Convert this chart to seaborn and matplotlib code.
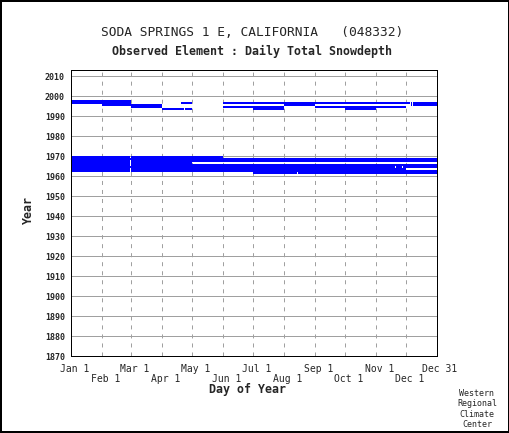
import matplotlib
matplotlib.use("Agg")
import matplotlib.pyplot as plt
import matplotlib.transforms as mtransforms
from matplotlib.patches import Rectangle
import seaborn as sns
import pandas as pd

# ---- data: observed-record segments (year, first day, day after last) ----
# day-of-year on a 366-day calendar (Jan 1 = 1, Feb 29 = 60, Dec 31 = 366)
seg_year  = [1997, 1996, 1996, 1996, 1996, 1996,
             1995, 1995, 1995, 1995,
             1994, 1994, 1994,
             1993, 1993, 1993, 1993,
             1969, 1969, 1968, 1967, 1967, 1966, 1966, 1965, 1965,
             1964, 1964, 1964, 1963, 1963, 1962, 1962, 1961, 1961]
seg_start = [1, 1, 111, 153, 341, 343,
             32, 214, 341, 343,
             61, 153, 245,
             92, 115, 183, 275,
             1, 61, 1, 1, 61, 1, 61, 1, 61,
             1, 326, 333, 1, 61, 1, 61, 183, 228]
seg_end   = [61, 61, 122, 340, 342, 367,
             92, 245, 342, 367,
             92, 214, 336,
             114, 122, 214, 306,
             60, 153, 367, 60, 367, 60, 122, 60, 367,
             325, 332, 367, 60, 336, 60, 367, 227, 367]

month_days   = [1, 32, 61, 92, 122, 153, 183, 214, 245, 275, 306, 336, 366]
month_labels = ["Jan 1", "Feb 1", "Mar 1", "Apr 1", "May 1", "Jun 1", "Jul 1",
                "Aug 1", "Sep 1", "Oct 1", "Nov 1", "Dec 1", "Dec 31"]
year_ticks = list(range(1870, 2011, 10))

title = "SODA SPRINGS 1 E, CALIFORNIA   (048332)"
subtitle = "Observed Element : Daily Total Snowdepth"

df = pd.DataFrame({"year": seg_year, "start": seg_start, "end": seg_end})
df["length"] = df["end"] - df["start"]

# ---- style ----
sns.set_style("white")
plt.rcParams["font.family"] = ["DejaVu Sans Mono", "DejaVu Sans"]
plt.rcParams["lines.scale_dashes"] = False

W, H = 510, 433
fig = plt.figure(figsize=(W / 100, H / 100), dpi=100)
ax = fig.add_axes([71 / W, 77 / H, 366 / W, 286 / H])

grid_c = "#a0a0a0"
px = 0.72

ax.set_xlim(1, 367)
ax.set_ylim(1870, 2013)

# horizontal grid
ax.set_yticks(year_ticks)
ax.set_yticklabels([str(y) for y in year_ticks], fontsize=6, fontweight="bold")
ax.tick_params(axis="y", length=4 * px, width=px, color=grid_c, pad=1.5)
ax.yaxis.grid(True, color=grid_c, linewidth=px, zorder=0)
ax.set_axisbelow(True)

# vertical dashed grid at month starts
ax.set_xticks([])
for d in month_days[1:-1]:
    ax.axvline(d, color=grid_c, linewidth=px, linestyle=(0, (2.9, 3.6)), zorder=0.5)

# bars of observed data
ax.barh(df["year"], df["length"], left=df["start"], height=1.0, align="edge",
        color="#0000ff", linewidth=0, zorder=2)

for s in ax.spines.values():
    s.set_color("black")
    s.set_linewidth(px)
    s.set_visible(True)

# x tick labels in two staggered rows
trans = mtransforms.blended_transform_factory(ax.transData, fig.transFigure)
for i, (d, lab) in enumerate(zip(month_days, month_labels)):
    ypix = 368.5 if i % 2 == 0 else 378.5
    ax.text(d + 4, 1 - ypix / H, lab, transform=trans, ha="center", va="center",
            fontsize=7, clip_on=False)

fig.text(252 / W, 1 - 33 / H, title, ha="center", va="center", fontsize=9.3)
fig.text(252 / W, 1 - 51.5 / H, subtitle, ha="center", va="center",
         fontsize=8.4, fontweight="bold")
fig.text(247.5 / W, 1 - 390 / H, "Day of Year", ha="center", va="center",
         fontsize=8.4, fontweight="bold")
fig.text(28 / W, 1 - 210 / H, "Year", ha="center", va="center", rotation=90,
         fontsize=8.4, fontweight="bold")
fig.text(477 / W, 1 - 409 / H, "Western\nRegional\nClimate\nCenter",
         ha="center", va="center", fontsize=6, linespacing=1.2)

# outer frame
fig.patches.append(Rectangle((1 / W, 1 / H), (W - 2) / W, (H - 2) / H,
                             transform=fig.transFigure, fill=False,
                             edgecolor="black", linewidth=1.44))

fig.savefig("out.png", dpi=100)
